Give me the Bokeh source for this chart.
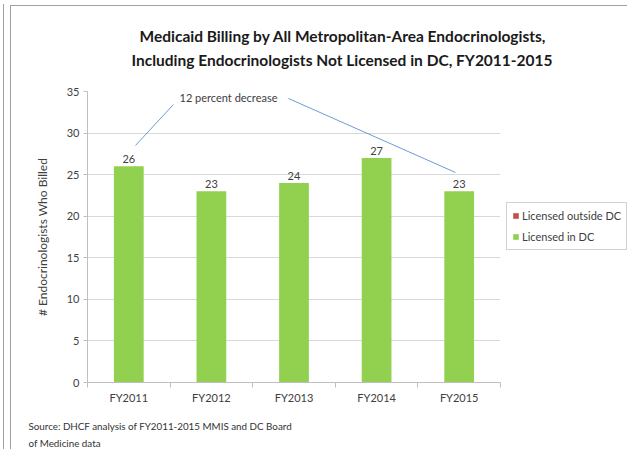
from bokeh.plotting import figure
from bokeh.models import Range1d, FixedTicker, Label, Legend, LegendItem, Title
from bokeh.core.properties import value
from bokeh.embed import file_html
from bokeh.resources import INLINE

# ---- data ----
categories = ["FY2011", "FY2012", "FY2013", "FY2014", "FY2015"]
licensed_in_dc = [26, 23, 24, 27, 23]
licensed_outside_dc = [0, 0, 0, 0, 0]
y_ticks = [0, 5, 10, 15, 20, 25, 30, 35]
title_lines = ["Medicaid Billing by All Metropolitan-Area Endocrinologists,",
               "Including Endocrinologists Not Licensed in DC, FY2011-2015"]
annotation_text = "12 percent decrease"
source_lines = ["Source: DHCF analysis of FY2011-2015  MMIS and DC Board",
                "of Medicine data"]

FONT = "Lato"
GREEN = "#92D050"
RED = "#C0504D"
AXIS = "#BFBFBF"
GRID = "#D9D9D9"
TXT = "#404040"
LINE = "#6F9BD3"

n = len(categories)
centers = [i + 0.5 for i in range(n)]

p = figure(width=627, height=449, frame_width=413, frame_height=291,
           min_border_left=87, min_border_right=127, min_border_top=91, min_border_bottom=67,
           x_range=Range1d(0, n), y_range=Range1d(0, 35),
           output_backend="svg", toolbar_location=None)
p.outline_line_color = None
p.background_fill_color = "white"
p.border_fill_color = None
p.styles = {
    "background-color": "white",
    "background-image": "linear-gradient(#A0A0A0,#A0A0A0), linear-gradient(#A0A0A0,#A0A0A0), linear-gradient(#A0A0A0,#A0A0A0)",
    "background-size": "1px 100%, 1px 100%, 100% 1px",
    "background-position": "3px 4px, 10px 5px, 10px 5px",
    "background-repeat": "no-repeat",
}

# bars
r_in = p.vbar(x=centers, top=licensed_in_dc, width=0.36, fill_color=GREEN, line_color=None)
tops = [a + b for a, b in zip(licensed_in_dc, licensed_outside_dc)]
r_out = p.vbar(x=centers, bottom=licensed_in_dc, top=tops, width=0.36,
               fill_color=RED, line_color=None)

# data labels
p.text(x=centers, y=tops, text=[str(v) for v in tops], text_align="center",
       text_baseline="bottom", y_offset=-3, text_font=value(FONT),
       text_font_size="11px", text_color=TXT)

# y axis
p.yaxis.ticker = FixedTicker(ticks=y_ticks)
p.yaxis.axis_line_color = AXIS
p.yaxis.major_tick_line_color = AXIS
p.yaxis.major_tick_out = 4
p.yaxis.major_tick_in = 0
p.yaxis.minor_tick_line_color = None
p.yaxis.major_label_standoff = 4
p.yaxis.major_label_text_font = FONT
p.yaxis.major_label_text_font_size = "11px"
p.yaxis.major_label_text_color = TXT
p.yaxis.axis_label = "# Endocrinologists Who Billed"
p.yaxis.axis_label_text_font = FONT
p.yaxis.axis_label_text_font_size = "12px"
p.yaxis.axis_label_text_font_style = "normal"
p.yaxis.axis_label_text_color = TXT
p.yaxis.axis_label_standoff = 14

# x axis
p.xaxis.ticker = FixedTicker(ticks=centers, minor_ticks=list(range(n + 1)))
p.xaxis.major_label_overrides = {c: cat for c, cat in zip(centers, categories)}
p.xaxis.axis_line_color = AXIS
p.xaxis.major_tick_line_color = None
p.xaxis.major_tick_out = 0
p.xaxis.major_tick_in = 0
p.xaxis.minor_tick_line_color = AXIS
p.xaxis.minor_tick_out = 5
p.xaxis.minor_tick_in = 0
p.xaxis.major_label_standoff = 3
p.xaxis.major_label_text_font = FONT
p.xaxis.major_label_text_font_size = "11px"
p.xaxis.major_label_text_color = TXT

p.xgrid.visible = False
p.ygrid.grid_line_color = GRID

# title (two lines, stacked outward from the frame, with a spacer next to the frame)
spacer = Title(text=" ", text_font_size="1px", standoff=18)
t2 = Title(text=title_lines[1], align="left", offset=44, standoff=4,
           text_font=FONT, text_font_size="15.5px", text_font_style="bold",
           text_color="#1a1a1a")
t1 = Title(text=title_lines[0], align="left", offset=52, standoff=4,
           text_font=FONT, text_font_size="15.5px", text_font_style="bold",
           text_color="#1a1a1a")
p.add_layout(spacer, "above")
p.add_layout(t2, "above")
p.add_layout(t1, "above")

# annotation
p.add_layout(Label(x=1.707, y=34.28, text=annotation_text, text_align="center",
                   text_baseline="middle", text_font=FONT, text_font_size="11px",
                   text_color=TXT))
ann_x0 = [1.041, 2.433]
ann_y0 = [33.44, 34.16]
ann_x1 = [centers[0] + 0.081, centers[-1] - 0.045]
ann_y1 = [licensed_in_dc[0] + 2.51, licensed_in_dc[-1] + 2.26]
p.segment(x0=ann_x0, y0=ann_y0, x1=ann_x1, y1=ann_y1, line_color=LINE, line_width=1)

# source (below the x axis)
spacer_b = Title(text=" ", text_font_size="1px", standoff=6)
s1 = Title(text=source_lines[0], align="left", offset=-59, standoff=4,
           text_font=FONT, text_font_size="9.8px", text_font_style="normal",
           text_color="#333333")
s2 = Title(text=source_lines[1], align="left", offset=-59, standoff=2,
           text_font=FONT, text_font_size="9.8px", text_font_style="normal",
           text_color="#333333")
p.add_layout(spacer_b, "below")
p.add_layout(s1, "below")
p.add_layout(s2, "below")

# legend
legend = Legend(items=[LegendItem(label="Licensed outside DC", renderers=[r_out]),
                       LegendItem(label="Licensed in DC", renderers=[r_in])],
                location=(6, 132))
legend.border_line_color = "#A6A6A6"
legend.label_text_font = FONT
legend.label_text_font_size = "11px"
legend.label_text_color = TXT
legend.glyph_width = 7
legend.glyph_height = 7
legend.label_standoff = 3
legend.label_height = 15
legend.spacing = 6
legend.padding = 5
legend.margin = 0
p.add_layout(legend, "right")

open("out.html", "w").write(file_html(p, INLINE))
